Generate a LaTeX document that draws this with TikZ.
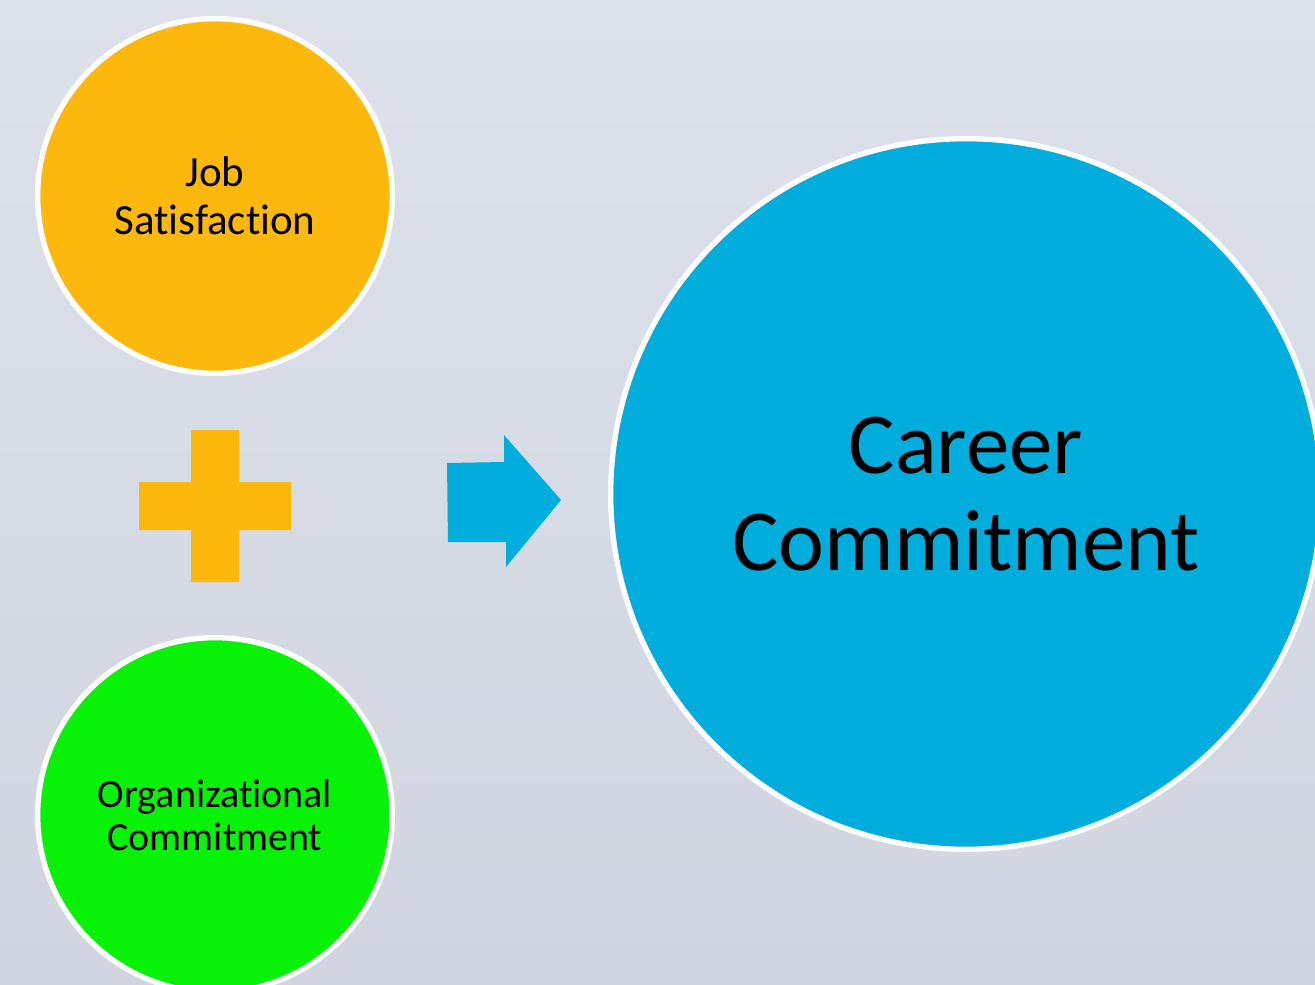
\documentclass[tikz,border=0pt]{standalone}
\usepackage{fontspec}
\setmainfont[Ligatures=NoCommon]{Carlito}
\usetikzlibrary{positioning}

\definecolor{bgtop}{RGB}{221,225,234}
\definecolor{bgbot}{RGB}{208,213,225}
\definecolor{jobcol}{RGB}{253,184,14}
\definecolor{orgcol}{RGB}{8,242,8}
\definecolor{carcol}{RGB}{0,173,220}

\begin{document}
\begin{tikzpicture}[x=0.75pt,y=-0.75pt,
  bubble/.style={circle,draw=white,line width=4pt,inner sep=0pt,align=center,text=black}]
  \useasboundingbox (0,0) rectangle (1315,985);
  \clip (0,0) rectangle (1315,985);
  \fill[top color=bgtop,bottom color=bgbot] (0,0) rectangle (1315,985);

  \node[bubble,fill=jobcol,minimum size=266pt,font=\fontsize{32.25}{36}\selectfont] (job) at (215,196) {Job\\Satisfaction};
  \node[bubble,fill=orgcol,minimum size=266pt,font=\fontsize{30}{32.25}\selectfont] (org) at (215,815) {Organizational\\Commitment};
  \node[bubble,fill=carcol,minimum size=533pt,font=\fontsize{65.25}{72.75}\selectfont] (car) at (966,494) {Career\\Commitment};

  % plus sign between the two small circles
  \fill[jobcol] (191,430) -- (239,430) -- (239,482) -- (291,482) -- (291,530) -- (239,530)
    -- (239,582) -- (191,582) -- (191,530) -- (139,530) -- (139,482) -- (191,482) -- cycle;

  % block arrow towards the big circle
  \fill[carcol] (447,463) -- (504,462) -- (504,435) -- (561,500) -- (506,567) -- (506,542) -- (448,542) -- cycle;
\end{tikzpicture}
\end{document}
